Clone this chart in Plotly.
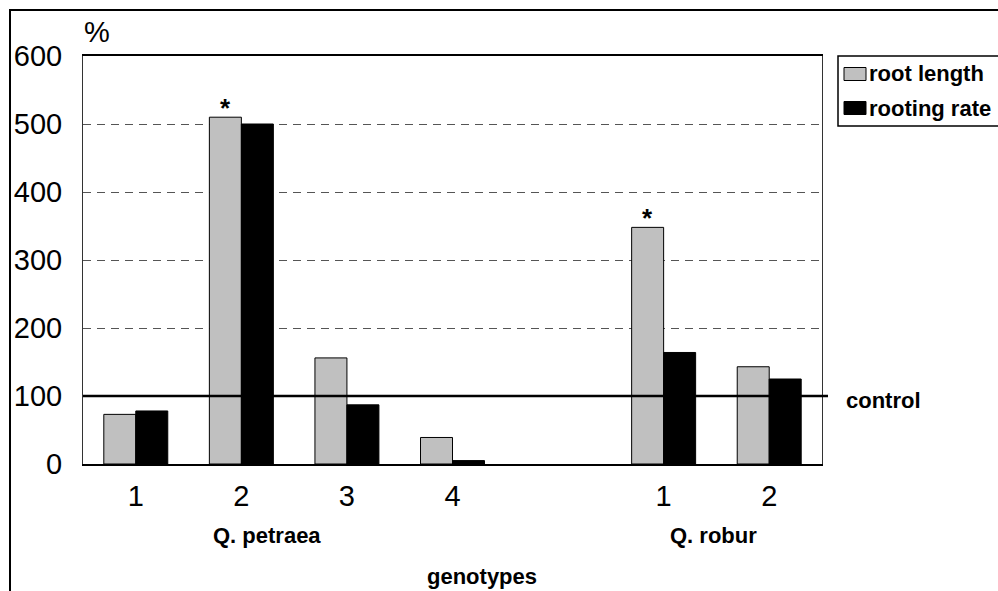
import plotly.graph_objects as go

# ---- data ----
genotype_labels = ["1", "2", "3", "4", "", "1", "2"]
root_length = [73, 510, 156, 39, None, 348, 143]
rooting_rate = [78, 500, 87, 5, None, 164, 125]
significant = [False, True, False, False, False, True, False]
control_value = 100
y_ticks = [0, 100, 200, 300, 400, 500, 600]
species = [("Q. petraea", 267), ("Q. robur", 713)]
series_names = ["root length", "rooting rate"]
series_colors = ["#C0C0C0", "black"]

FONT = "Liberation Sans, Arial, sans-serif"
W, H = 998, 591
L, R, T, B = 83, 176, 56, 127
pw, ph = W - L - R, H - T - B

def px_x(p):
    return (p - L) / pw

def px_y(p):
    return (H - B - p) / ph

positions = list(range(len(genotype_labels)))
bargap = 0.394

fig = go.Figure()
for name, vals, col in zip(series_names, [root_length, rooting_rate], series_colors):
    fig.add_trace(go.Bar(x=positions, y=vals, name=name, showlegend=False,
                         marker=dict(color=col, line=dict(color="black", width=1))))

annotations = []
offset = (1 - bargap) / 4
for i, s in enumerate(significant):
    if s:
        annotations.append(dict(x=positions[i] - offset, y=root_length[i], xref="x", yref="y",
                                text="<b>*</b>", showarrow=False, yanchor="bottom", yshift=-8,
                                font=dict(family=FONT, size=26, color="black")))
for name, xc in species:
    annotations.append(dict(x=px_x(xc), y=px_y(535), xref="paper", yref="paper", text=f"<b>{name}</b>",
                            showarrow=False, xanchor="center", yanchor="middle",
                            font=dict(family=FONT, size=22, color="black")))
annotations.append(dict(x=px_x(482), y=px_y(576), xref="paper", yref="paper", text="<b>genotypes</b>",
                        showarrow=False, xanchor="center", yanchor="middle",
                        font=dict(family=FONT, size=22, color="black")))
annotations.append(dict(x=px_x(844), y=px_y(400), xref="paper", yref="paper", text="<b>control</b>",
                        showarrow=False, xanchor="left", yanchor="middle",
                        font=dict(family=FONT, size=22, color="black")))
annotations.append(dict(x=px_x(82), y=px_y(32), xref="paper", yref="paper", text="%",
                        showarrow=False, xanchor="left", yanchor="middle",
                        font=dict(family=FONT, size=29, color="black")))

shapes = [
    # control line
    dict(type="line", xref="paper", yref="y", x0=0, x1=px_x(828), y0=control_value, y1=control_value,
         line=dict(color="black", width=2.5), layer="above"),
    # outer frame
    dict(type="rect", xref="paper", yref="paper", x0=px_x(10), x1=px_x(1100), y0=px_y(700), y1=px_y(10),
         line=dict(color="black", width=2), layer="below"),
    # legend box
    dict(type="rect", xref="paper", yref="paper", x0=px_x(838), x1=px_x(1100), y0=px_y(126), y1=px_y(56),
         line=dict(color="black", width=1.5), fillcolor="white", layer="above"),
]
# legend entries
for k, (name, col) in enumerate(zip(series_names, series_colors)):
    yc = 74 + 34 * k
    shapes.append(dict(type="rect", xref="paper", yref="paper",
                       x0=px_x(844), x1=px_x(866), y0=px_y(yc + 6.5), y1=px_y(yc - 6.5),
                       fillcolor=col, line=dict(color="black", width=1), layer="above"))
    annotations.append(dict(x=px_x(867), y=px_y(yc), xref="paper", yref="paper", text=f"<b>{name}</b>",
                            showarrow=False, xanchor="left", yanchor="middle",
                            font=dict(family=FONT, size=22, color="black")))

fig.update_layout(
    width=W, height=H,
    margin=dict(l=L, r=R, t=T, b=B),
    paper_bgcolor="white", plot_bgcolor="white",
    barmode="group", bargap=bargap, bargroupgap=0,
    font=dict(family=FONT, color="black"),
    showlegend=False,
    annotations=annotations,
    shapes=shapes,
    xaxis=dict(range=[-0.5, len(genotype_labels) - 0.5], tickmode="array",
               tickvals=positions, ticktext=genotype_labels,
               tickfont=dict(family=FONT, size=29, color="black"),
               showline=True, linecolor="black", linewidth=1.5, mirror=True,
               showgrid=False, zeroline=False, ticks="", ticklabelstandoff=5),
    yaxis=dict(range=[0, 600], tickmode="array", tickvals=y_ticks,
               tickfont=dict(family=FONT, size=29, color="black"),
               showline=True, linecolor="#333333", linewidth=1, mirror=True,
               showgrid=True, gridcolor="#555555", gridwidth=1, griddash="8px,6px",
               zeroline=False, ticks="", ticklabelstandoff=14),
)

fig.write_html("out.html", config={"displayModeBar": False},
               post_script="document.body.style.margin='0';document.body.style.overflow='hidden';")
